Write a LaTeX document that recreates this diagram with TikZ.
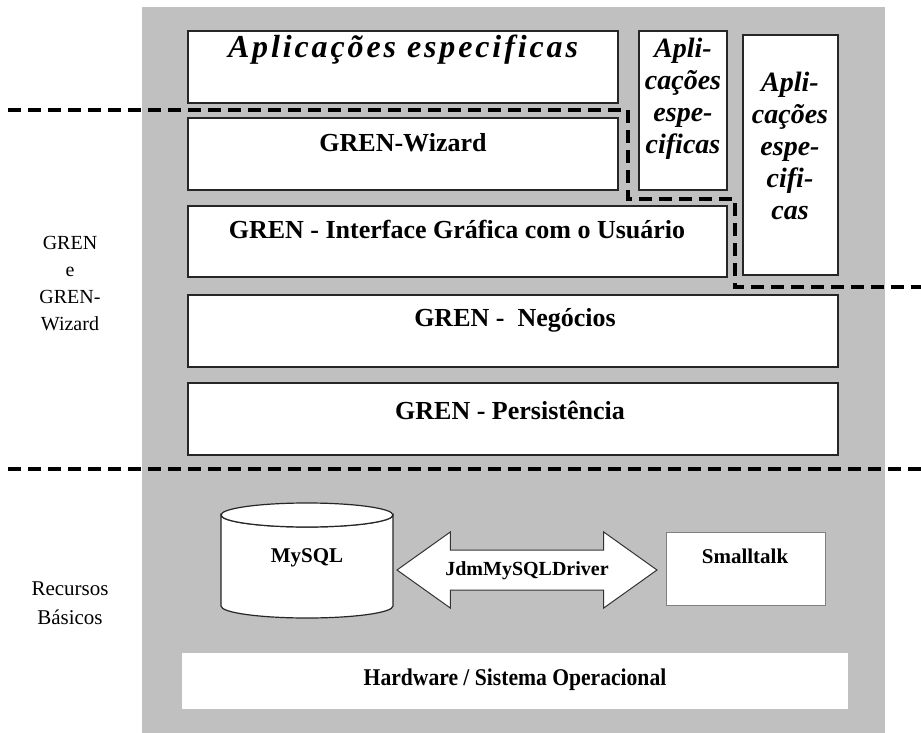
\documentclass[tikz,border=0pt]{standalone}
\usepackage{fontspec}
\setmainfont{Liberation Serif}
\usetikzlibrary{shapes.arrows}
\definecolor{fundo}{RGB}{192,192,192}
\tikzset{
  camada/.style={draw=black!85, fill=white, line width=0.6pt},
  titulo/.style={font=\fontsize{13}{15}\selectfont\bfseries},
  recurso/.style={font=\fontsize{10.5}{12}\selectfont\bfseries},
  aplic/.style={font=\fontsize{14}{16}\selectfont\bfseries\itshape, align=center},
  lateral/.style={font=\fontsize{10}{13.5}\selectfont, align=center},
  corte/.style={line width=1.8pt, dash pattern=on 6.5pt off 3.5pt},
  driver/.style={double arrow, draw=black!80, fill=white, line width=0.5pt,
    minimum height=130pt, double arrow head extend=9pt, double arrow tip angle=71,
    inner xsep=0pt, inner ysep=5.25pt, text height=7pt, text depth=2pt,
    font=\fontsize{10}{12}\selectfont\bfseries},
}

\begin{document}
\begin{tikzpicture}[x=0.5pt,y=-0.5pt]
\useasboundingbox (0,0) rectangle (921,733);
\fill[fundo] (142,7) rectangle (885,733);

% camadas do GREN
\draw[camada] (188,31) rectangle (618,103);
\node[aplic, font=\fontsize{16}{18}\selectfont\bfseries\itshape] (aplTopo) at (403,50) {\addfontfeature{LetterSpace=9}Aplicações especificas};
\draw[camada] (639,31) rectangle (727,190);
\node[aplic] (aplMeio) at (683,99) {Apli-\\cações\\espe-\\cificas};
\draw[camada] (743,35) rectangle (838,275);
\node[aplic] (aplLado) at (790,146) {Apli-\\cações\\espe-\\cifi-\\cas};

\draw[camada] (188,118) rectangle (618,190);
\node[titulo] (wizard) at (403,143) {GREN-Wizard};
\draw[camada] (188,206) rectangle (727,277);
\node[titulo] (interface) at (457,230) {GREN - Interface Gráfica com o Usuário};
\draw[camada] (188,295) rectangle (838,367);
\node[titulo] (negocios) at (515,320) {GREN -~ Negócios};
\draw[camada] (188,383) rectangle (838,455);
\node[titulo] (persist) at (510,410) {GREN - Persistência};

% recursos basicos
\path[camada] (221,515) -- (221,606) arc[start angle=180, end angle=0, x radius=86, y radius=12]
  -- (393,515) arc[start angle=0, end angle=180, x radius=86, y radius=12] -- cycle;
\draw[camada] (307,515) ellipse [x radius=86, y radius=12];
\node[recurso] (mysql) at (307,558) {MySQL};
\node[driver] (jdm) at (527,570) {JdmMySQLDriver};
\draw[draw=black!50, fill=white, line width=0.5pt] (666,532) rectangle (825,605);
\node[recurso] (smalltalk) at (745,556) {Smalltalk};
\fill[white] (182,653) rectangle (848,709);
\node[font=\fontsize{12}{14}\selectfont\bfseries\addfontfeature{FakeStretch=0.9}] (hardware) at (515,680) {Hardware / Sistema Operacional};

% divisoes
\draw[corte] (8,110) -- (628,110) -- (628,199) -- (735,199) -- (735,287) -- (921,287);
\draw[corte] (8,469) -- (921,469);
\node[lateral] (ladoGren) at (70,284) {GREN\\e\\GREN-\\Wizard};
\node[lateral, font=\fontsize{10.5}{14.5}\selectfont] (ladoRec) at (70,603) {Recursos\\Básicos};
\end{tikzpicture}
\end{document}
